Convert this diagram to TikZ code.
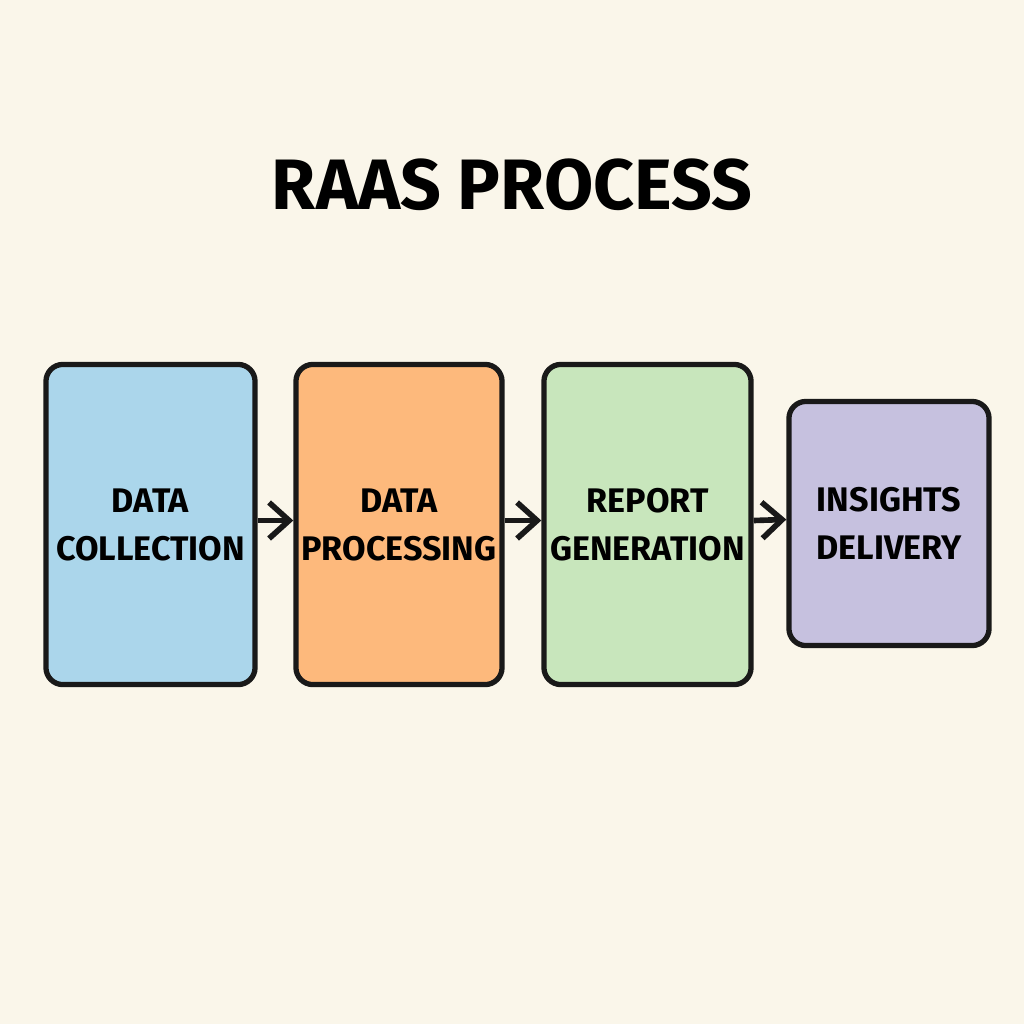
\documentclass[tikz,border=0pt]{standalone}
\usepackage{fontspec}
\setmainfont{Fira Sans}
\usetikzlibrary{arrows.meta}
\definecolor{paper}{HTML}{FAF6EA}
\definecolor{collectblue}{HTML}{ABD6EB}
\definecolor{processorange}{HTML}{FDB97C}
\definecolor{reportgreen}{HTML}{C8E6BC}
\definecolor{insightpurple}{HTML}{C6C1DF}
\begin{document}
\begin{tikzpicture}[x=0.01cm,y=-0.01cm,>={Straight Barb[length=2mm,width=3.6mm,line width=1.6pt]},
    stagebox/.style={draw=black!90,line width=1.5pt,rounded corners=0.17cm,inner sep=0pt,
      align=center,font=\fontsize{9.7}{13.7}\selectfont\bfseries,minimum height=3.2cm,text depth=-0.06cm},
    flow/.style={->,line width=1.6pt,black!90}]
    \fill[paper] (0,0) rectangle (1024,1024);
    \node[font=\fontsize{20.3}{24}\selectfont\bfseries] (title) at (512,185) {RAAS PROCESS};
    \node[stagebox,fill=collectblue,minimum width=2.09cm] (collect) at (150.5,524.5) {DATA\\COLLECTION};
    \node[stagebox,fill=processorange,minimum width=2.06cm] (process) at (399,524.5) {DATA\\PROCESSING};
    \node[stagebox,fill=reportgreen,minimum width=2.07cm] (report) at (647.5,524.5) {REPORT\\GENERATION};
    \node[stagebox,fill=insightpurple,minimum width=2cm,minimum height=2.44cm] (deliver) at (889,523.5) {INSIGHTS\\DELIVERY};
    \foreach \a/\b in {collect/process,process/report,report/deliver}
        \draw[flow] ([yshift=0.04cm]\a.east) -- ([yshift=0.04cm]\b.west);
\end{tikzpicture}
\end{document}
